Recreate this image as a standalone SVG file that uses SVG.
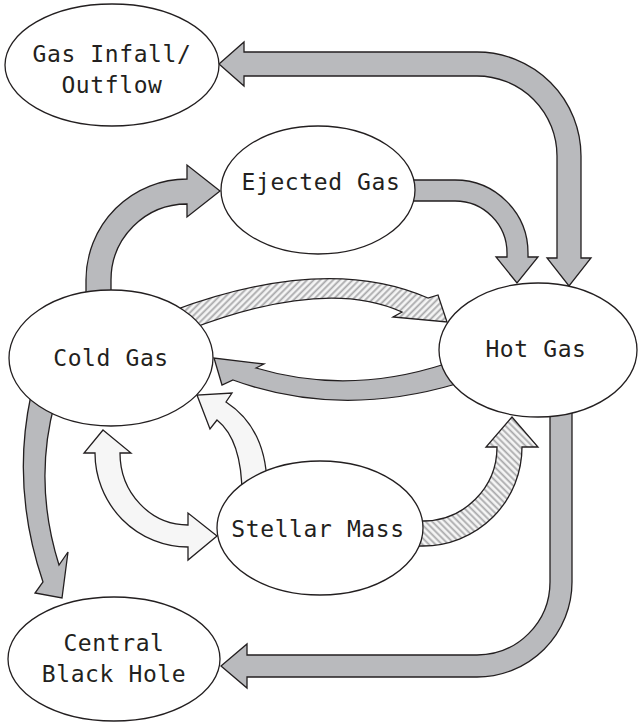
<svg xmlns="http://www.w3.org/2000/svg" width="638" height="727" viewBox="0 0 638 727">
<style>
.node{fill:#fff;stroke:#231f20;stroke-width:1.3}
.lbl{font-family:"DejaVu Sans Mono","Liberation Mono",monospace;font-size:23px;fill:#231f20;text-anchor:middle;letter-spacing:0.6px}
.gray{fill:#b9babd;stroke:#231f20;stroke-width:1.3;stroke-linejoin:miter}
.light{fill:#f6f6f6;stroke:#231f20;stroke-width:1.3}
.hatchA{fill:url(#hA);stroke:#231f20;stroke-width:1.3}
.hatchB{fill:url(#hB);stroke:#231f20;stroke-width:1.3}
</style>
<defs>
<pattern id="hA" patternUnits="userSpaceOnUse" width="4.6" height="4.6" patternTransform="rotate(45)">
<rect width="4.6" height="4.6" fill="#f5f5f5"/>
<line x1="1.2" y1="0" x2="1.2" y2="4.6" stroke="#a9a9ab" stroke-width="1.8"/>
</pattern>
<pattern id="hB" patternUnits="userSpaceOnUse" width="4.6" height="4.6" patternTransform="rotate(-45)">
<rect width="4.6" height="4.6" fill="#f5f5f5"/>
<line x1="1.2" y1="0" x2="1.2" y2="4.6" stroke="#a9a9ab" stroke-width="1.8"/>
</pattern>
</defs>
<rect width="638" height="727" fill="#fff"/>
<g id="connectors">
<path id="hot-infall" class="gray" d="M219,64 L244,42 L244,52 L477,52 A104,104 0 0 1 581,156 L581,258 L591,258 L569,286 L547,258 L557,258 L557,156 A80,80 0 0 0 477,76 L244,76 L244,86 Z"/>
<path id="ejected-hot" class="gray" d="M405,180 L455,180 A73,73 0 0 1 528,253 L528,257 L538,257 L517,283 L496,257 L507,257 L507,253 A52,52 0 0 0 455,201 L405,201 Z"/>
<path id="cold-ejected" class="gray" d="M86,300 L86,280 A101,101 0 0 1 187,179 L187,165 L220,191 L187,217 L187,204 A76,76 0 0 0 111,280 L111,300 Z"/>
<path id="cold-hot" class="hatchA" d="M172,311 Q326,253.5 428,298 L438,295 L447,322 L393,317 L402,312 Q325,277 188,330 Z"/>
<path id="hot-cold" class="gray" d="M445,364 Q348,395.5 256,368 L264,364 L214,358 L222,385 L233,380 Q338.5,418.5 456,384 Z"/>
<path id="stellar-cold" class="light" d="M242,495 Q242,440 217,420 L210,429 L197,395 L232,393 L226,402 Q266,428 267,485 Z"/>
<path id="cold-stellar" class="light" d="M103,430 L131,453 L120,453 A68,72 0 0 0 188,525 L188,513 L217,536 L188,560 L188,547 A93,94 0 0 1 95,453 L84,453 Z"/>
<path id="stellar-hot" class="hatchB" d="M410,521 L423,521 A74,74 0 0 0 497,447 L486,447 L512,417 L538,447 L522,447 A99,99 0 0 1 423,546 L410,546 Z"/>
<path id="cold-bh" class="gray" d="M31,395 Q11,488 43,582 L35,593 L62,598 L68,552 L59,565 Q33,482 55,402 Z"/>
<path id="hot-bh" class="gray" d="M550,405 L572,405 L572,582 A95,95 0 0 1 477,677 L247,677 L247,688 L221,666 L247,644 L247,655 L477,655 A73,73 0 0 0 550,582 Z"/>
</g>
<g id="gas-infall">
<ellipse class="node" cx="112" cy="65" rx="107" ry="61"/>
<text class="lbl" x="112" y="62">Gas Infall/</text>
<text class="lbl" x="112" y="93">Outflow</text>
</g>
<g id="ejected-gas">
<ellipse class="node" cx="318" cy="190" rx="97" ry="64"/>
<text class="lbl" x="321" y="190">Ejected Gas</text>
</g>
<g id="cold-gas">
<ellipse class="node" cx="111" cy="358" rx="102" ry="68"/>
<text class="lbl" x="111" y="366">Cold Gas</text>
</g>
<g id="hot-gas">
<ellipse class="node" cx="538" cy="350" rx="99" ry="67"/>
<text class="lbl" x="536" y="357">Hot Gas</text>
</g>
<g id="stellar-mass">
<ellipse class="node" cx="320" cy="528" rx="103" ry="67"/>
<text class="lbl" x="318" y="537">Stellar Mass</text>
</g>
<g id="black-hole">
<ellipse class="node" cx="114" cy="659" rx="106" ry="62"/>
<text class="lbl" x="114" y="651">Central</text>
<text class="lbl" x="114" y="682">Black Hole</text>
</g>
</svg>
